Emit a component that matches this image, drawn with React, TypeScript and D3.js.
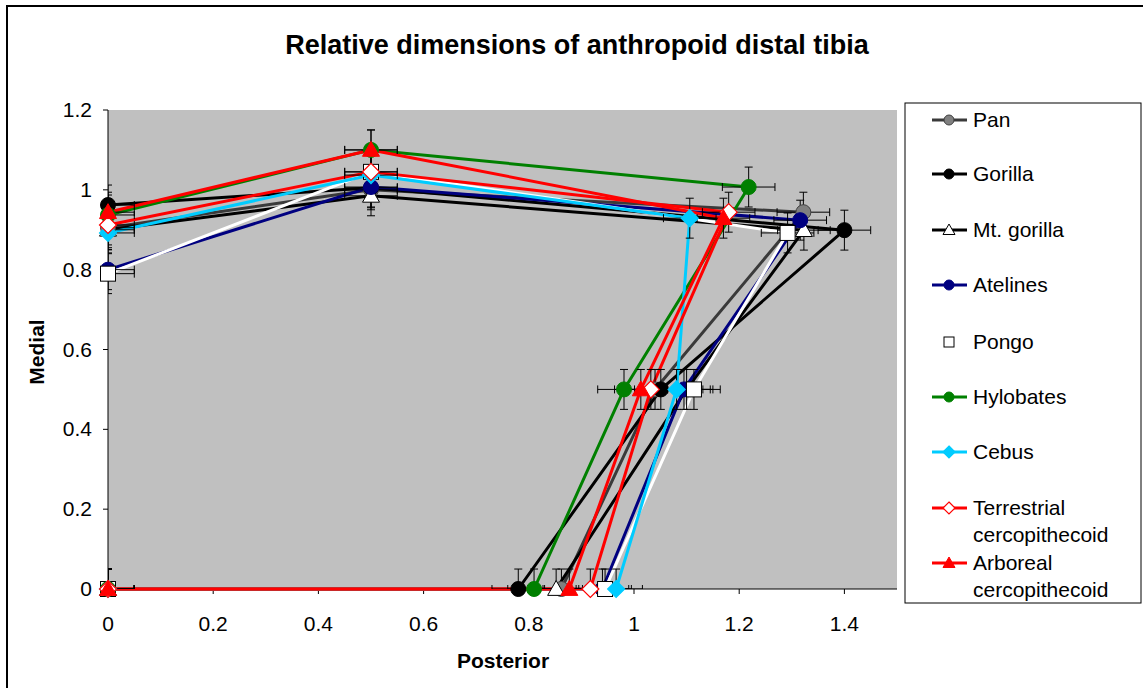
import React from "react";
import * as d3 from "d3";

// ---- data ----
const seriesNames = ["Pan", "Gorilla", "Mt. gorilla", "Atelines", "Pongo", "Hylobates", "Cebus", "Terrestrial cercopithecoid", "Arboreal cercopithecoid"];
// each series: points ordered (0,0) -> (zero-medial) -> (0.5 medial) -> third -> (0.5 posterior) -> (0, medial)
const panX = [0, 0.862, 1.04, 1.322, 0.5, 0];
const panY = [0, 0, 0.5, 0.944, 1.0, 0.905];
const gorillaX = [0, 0.78, 1.051, 1.40, 0.5, 0];
const gorillaY = [0, 0, 0.5, 0.899, 1.005, 0.962];
const mtGorillaX = [0, 0.852, 1.10, 1.323, 0.5, 0];
const mtGorillaY = [0, 0, 0.5, 0.899, 0.985, 0.90];
const atelinesX = [0, 0.94, 1.095, 1.316, 0.5, 0];
const atelinesY = [0, 0, 0.5, 0.924, 1.007, 0.80];
const pongoX = [0, 0.945, 1.114, 1.292, 0.5, 0];
const pongoY = [0, 0, 0.5, 0.892, 1.045, 0.79];
const hylobatesX = [0, 0.81, 0.981, 1.218, 0.5, 0];
const hylobatesY = [0, 0, 0.5, 1.007, 1.10, 0.937];
const cebusX = [0, 0.966, 1.081, 1.106, 0.5, 0];
const cebusY = [0, 0, 0.5, 0.929, 1.037, 0.892];
const terrestrialX = [0, 0.917, 1.032, 1.18, 0.5, 0];
const terrestrialY = [0, 0, 0.5, 0.944, 1.045, 0.912];
const arborealX = [0, 0.877, 1.013, 1.17, 0.5, 0];
const arborealY = [0, 0, 0.5, 0.929, 1.10, 0.944];
const errorX = 0.05;
const errorY = 0.05;
const xTicks = [0, 0.2, 0.4, 0.6, 0.8, 1, 1.2, 1.4];
const yTicks = [0, 0.2, 0.4, 0.6, 0.8, 1, 1.2];

type Style = { line: string; marker: string; fill: string; stroke: string };
const styles: Style[] = [
  { line: "#3a3a3a", marker: "circle", fill: "#808080", stroke: "#404040" },
  { line: "#000000", marker: "circle", fill: "#000000", stroke: "#000000" },
  { line: "#000000", marker: "triangle", fill: "#ffffff", stroke: "#000000" },
  { line: "#000080", marker: "circle", fill: "#000080", stroke: "#000080" },
  { line: "#ffffff", marker: "square", fill: "#ffffff", stroke: "#000000" },
  { line: "#008000", marker: "circle", fill: "#008000", stroke: "#008000" },
  { line: "#00CCFF", marker: "diamond", fill: "#00CCFF", stroke: "#00CCFF" },
  { line: "#FF0000", marker: "diamond", fill: "#ffffff", stroke: "#FF0000" },
  { line: "#FF0000", marker: "triangle", fill: "#FF0000", stroke: "#FF0000" },
];
const allX = [panX, gorillaX, mtGorillaX, atelinesX, pongoX, hylobatesX, cebusX, terrestrialX, arborealX];
const allY = [panY, gorillaY, mtGorillaY, atelinesY, pongoY, hylobatesY, cebusY, terrestrialY, arborealY];

const W = 1143, H = 688;
const PL = 108, PR = 897, PT = 110, PB = 589;
const FONT = "'Liberation Sans', Arial, sans-serif";

function Marker({ kind, x, y, s, fill, stroke }: { kind: string; x: number; y: number; s: number; fill: string; stroke: string }) {
  if (kind === "circle") return <circle cx={x} cy={y} r={s / 2} fill={fill} stroke={stroke} strokeWidth={1} />;
  if (kind === "square") return <rect x={x - s / 2} y={y - s / 2} width={s} height={s} fill={fill} stroke={stroke} strokeWidth={1} />;
  if (kind === "diamond") {
    const h = s / 2 + 1;
    return <path d={`M${x},${y - h}L${x + h},${y}L${x},${y + h}L${x - h},${y}Z`} fill={fill} stroke={stroke} strokeWidth={1.2} />;
  }
  const h = s / 2 + 1;
  return <path d={`M${x},${y - h}L${x + h},${y + h * 0.75}L${x - h},${y + h * 0.75}Z`} fill={fill} stroke={stroke} strokeWidth={1} />;
}

export default function App() {
  const x = d3.scaleLinear().domain([0, 1.5]).range([PL, PR]);
  const y = d3.scaleLinear().domain([0, 1.2]).range([PB, PT]);
  const line = d3.line<[number, number]>().x((d) => x(d[0])).y((d) => y(d[1]));

  const pts = allX.map((xs, i) => xs.map((v, j) => [v, allY[i][j]] as [number, number]));
  const cap = 4;

  const legendRows = [120, 174, 230, 285, 342, 397, 452, 508, 563];

  return (
    <svg width={W} height={H} style={{ position: "fixed", left: 0, top: 0, background: "#fff" }} fontFamily={FONT}>
      <defs>
        <clipPath id="plotClip">
          <rect x={PL} y={PT - 20} width={PR - PL + 20} height={PB - PT + 20} />
        </clipPath>
      </defs>
      <rect x={7} y={6} width={W + 10} height={H + 10} fill="#fff" stroke="#000" strokeWidth={2} />
      <text x={577} y={54} textAnchor="middle" fontSize={27} fontWeight="bold">Relative dimensions of anthropoid distal tibia</text>

      <rect x={PL} y={PT} width={PR - PL} height={PB - PT} fill="#C0C0C0" />

      {/* axes */}
      <line x1={PL} y1={PT} x2={PL} y2={PB} stroke="#000" strokeWidth={1} />
      <line x1={PL} y1={PB} x2={PR} y2={PB} stroke="#000" strokeWidth={1} />
      {yTicks.map((t) => (
        <g key={"y" + t}>
          <line x1={PL - 5} x2={PL} y1={y(t)} y2={y(t)} stroke="#000" />
          <text x={PL - 16} y={y(t) + 7} textAnchor="end" fontSize={21}>{d3.format("")(t)}</text>
        </g>
      ))}
      {xTicks.map((t) => (
        <g key={"x" + t}>
          <line x1={x(t)} x2={x(t)} y1={PB} y2={PB + 5} stroke="#000" />
          <text x={x(t)} y={PB + 42} textAnchor="middle" fontSize={21}>{d3.format("")(t)}</text>
        </g>
      ))}
      <text x={503} y={668} textAnchor="middle" fontSize={21} fontWeight="bold">Posterior</text>
      <text transform="translate(44,352) rotate(-90)" textAnchor="middle" fontSize={21} fontWeight="bold">Medial</text>

      {/* lines */}
      {pts.map((p, i) => (
        <path key={"l" + i} d={line(p) || ""} fill="none" stroke={styles[i].line} strokeWidth={3} strokeLinejoin="round" />
      ))}

      {/* error bars */}
      <g clipPath="url(#plotClip)" stroke="#000" strokeWidth={1}>
        {pts.map((p, i) =>
          p.map((d, j) => {
            const cx = x(d[0]), cy = y(d[1]);
            const x0 = x(d[0] - errorX), x1 = x(d[0] + errorX);
            const y0 = y(d[1] - errorY), y1 = y(d[1] + errorY);
            return (
              <g key={"e" + i + "-" + j}>
                <line x1={x0} x2={x1} y1={cy} y2={cy} />
                <line x1={x0} x2={x0} y1={cy - cap} y2={cy + cap} />
                <line x1={x1} x2={x1} y1={cy - cap} y2={cy + cap} />
                <line x1={cx} x2={cx} y1={y0} y2={y1} />
                <line x1={cx - cap} x2={cx + cap} y1={y0} y2={y0} />
                <line x1={cx - cap} x2={cx + cap} y1={y1} y2={y1} />
              </g>
            );
          })
        )}
      </g>

      {/* markers */}
      {pts.map((p, i) =>
        p.map((d, j) => (
          <Marker key={"m" + i + "-" + j} kind={styles[i].marker} x={x(d[0])} y={y(d[1])} s={15} fill={styles[i].fill} stroke={styles[i].stroke} />
        ))
      )}

      {/* legend */}
      <rect x={905} y={103} width={236} height={500} fill="#fff" stroke="#000" strokeWidth={1} />
      {seriesNames.map((n, i) => {
        const ly = legendRows[i];
        const words = i >= 7 ? n.split(" ") : [n];
        return (
          <g key={"lg" + i}>
            {i !== 4 && <line x1={932} x2={967} y1={ly} y2={ly} stroke={styles[i].line} strokeWidth={3} />}
            <Marker kind={styles[i].marker} x={949} y={ly} s={10} fill={styles[i].fill} stroke={styles[i].stroke} />
            {words.map((w, k) => (
              <text key={k} x={973} y={ly + 7 + k * 27} fontSize={21}>{w}</text>
            ))}
          </g>
        );
      })}
    </svg>
  );
}
